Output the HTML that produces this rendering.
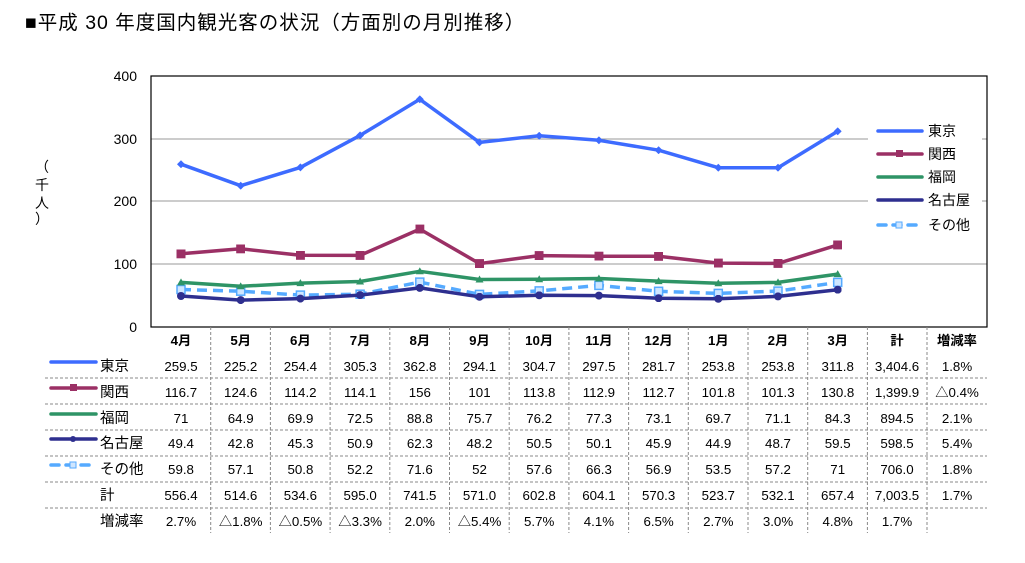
<!DOCTYPE html>
<html><head><meta charset="utf-8"><style>
body{margin:0;background:#fff;}
svg{display:block;font-family:"Liberation Sans","Noto Sans CJK JP",sans-serif;}
</style></head><body>
<svg width="1025" height="563" viewBox="0 0 1025 563" xmlns="http://www.w3.org/2000/svg">
<defs>
<marker id="mT" viewBox="-4 -4 8 8" markerWidth="8" markerHeight="8" markerUnits="userSpaceOnUse"><path d="M0,-4L4,0L0,4L-4,0Z" fill="#3d6bff"/></marker>
<marker id="mK" viewBox="-4 -4 8 8" markerWidth="9" markerHeight="9" markerUnits="userSpaceOnUse"><rect x="-4" y="-4" width="8" height="8" fill="#9b3065"/></marker>
<marker id="mF" viewBox="-4 -4 8 8" markerWidth="8" markerHeight="8" markerUnits="userSpaceOnUse"><path d="M0,-4L4,3L-4,3Z" fill="#2e9466"/></marker>
<marker id="mN" viewBox="-4 -4 8 8" markerWidth="8" markerHeight="8" markerUnits="userSpaceOnUse"><circle r="4" fill="#2e2f8f"/></marker>
<marker id="mO" viewBox="-5 -5 10 10" markerWidth="10" markerHeight="10" markerUnits="userSpaceOnUse"><rect x="-4" y="-4" width="8" height="8" fill="#cfe6ff" stroke="#55aaff" stroke-width="1.5"/></marker>
</defs>
<text x="25" y="29" font-size="19.5" letter-spacing="1" fill="#000">■平成 30 年度国内観光客の状況（方面別の月別推移）</text>
<g stroke="#999" stroke-width="1">
<line x1="151" y1="139" x2="987" y2="139"/>
<line x1="151" y1="201" x2="987" y2="201"/>
<line x1="151" y1="264" x2="987" y2="264"/>
</g>
<rect x="151" y="76" width="836" height="251" fill="none" stroke="#000" stroke-width="1.2"/>
<g font-size="14" text-anchor="end" fill="#000">
<text x="137" y="81">400</text><text x="137" y="144">300</text><text x="137" y="206">200</text><text x="137" y="269">100</text><text x="137" y="332">0</text>
</g>
<text font-size="14" x="42" y="172" text-anchor="middle">（</text>
<text font-size="14" x="42" y="190" text-anchor="middle">千</text>
<text font-size="14" x="42" y="208" text-anchor="middle">人</text>
<text font-size="14" x="42" y="224" text-anchor="middle">）</text>
<rect x="868" y="118" width="114" height="120" fill="#fff"/>
<g stroke-width="3.5" stroke-linecap="round">
<line x1="878" y1="131" x2="922" y2="131" stroke="#3d6bff"/>
<line x1="878" y1="154" x2="922" y2="154" stroke="#9b3065"/>
<line x1="878" y1="177" x2="922" y2="177" stroke="#2e9466"/>
<line x1="878" y1="200" x2="922" y2="200" stroke="#2e2f8f"/>
<line x1="878" y1="225" x2="922" y2="225" stroke="#55aaff" stroke-dasharray="8,7"/>
</g>
<rect x="896" y="150" width="7" height="7" fill="#9b3065"/>
<rect x="896" y="222" width="6" height="6" fill="#cfe6ff" stroke="#55aaff"/>
<g font-size="14"><text x="928" y="136">東京</text><text x="928" y="159">関西</text><text x="928" y="182">福岡</text><text x="928" y="205">名古屋</text><text x="928" y="230">その他</text></g>
<g fill="none" stroke-width="3.5" stroke-linejoin="round">
<polyline stroke="#55aaff" stroke-dasharray="10,6" marker-start="url(#mO)" marker-mid="url(#mO)" marker-end="url(#mO)" points="181,289.5 240.7,291.2 300.4,295.1 360.1,294.2 419.8,282.1 479.5,294.4 539.2,290.9 598.9,285.4 658.6,291.3 718.3,293.4 778,291.1 837.7,282.4"/>
<polyline stroke="#2e2f8f" marker-start="url(#mN)" marker-mid="url(#mN)" marker-end="url(#mN)" points="181,296 240.7,300.1 300.4,298.6 360.1,295.1 419.8,287.9 479.5,296.8 539.2,295.3 598.9,295.6 658.6,298.2 718.3,298.8 778,296.4 837.7,289.7"/>
<polyline stroke="#2e9466" marker-start="url(#mF)" marker-mid="url(#mF)" marker-end="url(#mF)" points="181,282.4 240.7,286.3 300.4,283.1 360.1,281.5 419.8,271.3 479.5,279.5 539.2,279.2 598.9,278.5 658.6,281.1 718.3,283.3 778,282.4 837.7,274.1"/>
<polyline stroke="#9b3065" marker-start="url(#mK)" marker-mid="url(#mK)" marker-end="url(#mK)" points="181,253.8 240.7,248.8 300.4,255.3 360.1,255.4 419.8,229.1 479.5,263.6 539.2,255.6 598.9,256.2 658.6,256.3 718.3,263.1 778,263.4 837.7,244.9"/>
<polyline stroke="#3d6bff" marker-start="url(#mT)" marker-mid="url(#mT)" marker-end="url(#mT)" points="181,164.2 240.7,185.7 300.4,167.4 360.1,135.4 419.8,99.3 479.5,142.4 539.2,135.8 598.9,140.3 658.6,150.2 718.3,167.7 778,167.7 837.7,131.3"/>
</g>
<g stroke="#888" stroke-width="1" stroke-dasharray="3,2">
<line x1="210.7" y1="327" x2="210.7" y2="533"/><line x1="270.4" y1="327" x2="270.4" y2="533"/><line x1="330.1" y1="327" x2="330.1" y2="533"/><line x1="389.8" y1="327" x2="389.8" y2="533"/><line x1="449.5" y1="327" x2="449.5" y2="533"/><line x1="509.2" y1="327" x2="509.2" y2="533"/><line x1="568.9" y1="327" x2="568.9" y2="533"/><line x1="628.6" y1="327" x2="628.6" y2="533"/><line x1="688.3" y1="327" x2="688.3" y2="533"/><line x1="748" y1="327" x2="748" y2="533"/><line x1="807.7" y1="327" x2="807.7" y2="533"/><line x1="867.4" y1="327" x2="867.4" y2="533"/><line x1="927" y1="327" x2="927" y2="533"/>
<line x1="45" y1="378" x2="987" y2="378"/><line x1="45" y1="404" x2="987" y2="404"/><line x1="45" y1="430" x2="987" y2="430"/><line x1="45" y1="456" x2="987" y2="456"/><line x1="45" y1="482" x2="987" y2="482"/><line x1="45" y1="508" x2="987" y2="508"/>
</g>
<g stroke-width="3.5" stroke-linecap="round">
<line x1="51" y1="362" x2="96" y2="362" stroke="#3d6bff"/>
<line x1="51" y1="388" x2="96" y2="388" stroke="#9b3065"/>
<line x1="51" y1="414" x2="96" y2="414" stroke="#2e9466"/>
<line x1="51" y1="439" x2="96" y2="439" stroke="#2e2f8f"/>
<line x1="51" y1="465" x2="96" y2="465" stroke="#55aaff" stroke-dasharray="8,7"/>
</g>
<rect x="70" y="384" width="7" height="7" fill="#9b3065"/>
<circle cx="73" cy="439" r="3" fill="#2e2f8f"/>
<rect x="70" y="462" width="6" height="6" fill="#cfe6ff" stroke="#55aaff"/>
<g font-size="14.5" fill="#000">
<text x="100" y="371">東京</text><text x="100" y="397">関西</text><text x="100" y="423">福岡</text><text x="100" y="448">名古屋</text><text x="100" y="474">その他</text><text x="100" y="500">計</text><text x="100" y="526">増減率</text>
</g>
<g font-size="13.3" text-anchor="middle" fill="#000">
<text y="345" font-weight="bold"><tspan x="181">4月</tspan><tspan x="240.7">5月</tspan><tspan x="300.4">6月</tspan><tspan x="360.1">7月</tspan><tspan x="419.8">8月</tspan><tspan x="479.5">9月</tspan><tspan x="539.2">10月</tspan><tspan x="598.9">11月</tspan><tspan x="658.6">12月</tspan><tspan x="718.3">1月</tspan><tspan x="778">2月</tspan><tspan x="837.7">3月</tspan><tspan x="897">計</tspan><tspan x="957">増減率</tspan></text>
<text y="371"><tspan x="181">259.5</tspan><tspan x="240.7">225.2</tspan><tspan x="300.4">254.4</tspan><tspan x="360.1">305.3</tspan><tspan x="419.8">362.8</tspan><tspan x="479.5">294.1</tspan><tspan x="539.2">304.7</tspan><tspan x="598.9">297.5</tspan><tspan x="658.6">281.7</tspan><tspan x="718.3">253.8</tspan><tspan x="778">253.8</tspan><tspan x="837.7">311.8</tspan><tspan x="897">3,404.6</tspan><tspan x="957">1.8%</tspan></text>
<text y="397"><tspan x="181">116.7</tspan><tspan x="240.7">124.6</tspan><tspan x="300.4">114.2</tspan><tspan x="360.1">114.1</tspan><tspan x="419.8">156</tspan><tspan x="479.5">101</tspan><tspan x="539.2">113.8</tspan><tspan x="598.9">112.9</tspan><tspan x="658.6">112.7</tspan><tspan x="718.3">101.8</tspan><tspan x="778">101.3</tspan><tspan x="837.7">130.8</tspan><tspan x="897">1,399.9</tspan><tspan x="957">△0.4%</tspan></text>
<text y="423"><tspan x="181">71</tspan><tspan x="240.7">64.9</tspan><tspan x="300.4">69.9</tspan><tspan x="360.1">72.5</tspan><tspan x="419.8">88.8</tspan><tspan x="479.5">75.7</tspan><tspan x="539.2">76.2</tspan><tspan x="598.9">77.3</tspan><tspan x="658.6">73.1</tspan><tspan x="718.3">69.7</tspan><tspan x="778">71.1</tspan><tspan x="837.7">84.3</tspan><tspan x="897">894.5</tspan><tspan x="957">2.1%</tspan></text>
<text y="448"><tspan x="181">49.4</tspan><tspan x="240.7">42.8</tspan><tspan x="300.4">45.3</tspan><tspan x="360.1">50.9</tspan><tspan x="419.8">62.3</tspan><tspan x="479.5">48.2</tspan><tspan x="539.2">50.5</tspan><tspan x="598.9">50.1</tspan><tspan x="658.6">45.9</tspan><tspan x="718.3">44.9</tspan><tspan x="778">48.7</tspan><tspan x="837.7">59.5</tspan><tspan x="897">598.5</tspan><tspan x="957">5.4%</tspan></text>
<text y="474"><tspan x="181">59.8</tspan><tspan x="240.7">57.1</tspan><tspan x="300.4">50.8</tspan><tspan x="360.1">52.2</tspan><tspan x="419.8">71.6</tspan><tspan x="479.5">52</tspan><tspan x="539.2">57.6</tspan><tspan x="598.9">66.3</tspan><tspan x="658.6">56.9</tspan><tspan x="718.3">53.5</tspan><tspan x="778">57.2</tspan><tspan x="837.7">71</tspan><tspan x="897">706.0</tspan><tspan x="957">1.8%</tspan></text>
<text y="500"><tspan x="181">556.4</tspan><tspan x="240.7">514.6</tspan><tspan x="300.4">534.6</tspan><tspan x="360.1">595.0</tspan><tspan x="419.8">741.5</tspan><tspan x="479.5">571.0</tspan><tspan x="539.2">602.8</tspan><tspan x="598.9">604.1</tspan><tspan x="658.6">570.3</tspan><tspan x="718.3">523.7</tspan><tspan x="778">532.1</tspan><tspan x="837.7">657.4</tspan><tspan x="897">7,003.5</tspan><tspan x="957">1.7%</tspan></text>
<text y="526"><tspan x="181">2.7%</tspan><tspan x="240.7">△1.8%</tspan><tspan x="300.4">△0.5%</tspan><tspan x="360.1">△3.3%</tspan><tspan x="419.8">2.0%</tspan><tspan x="479.5">△5.4%</tspan><tspan x="539.2">5.7%</tspan><tspan x="598.9">4.1%</tspan><tspan x="658.6">6.5%</tspan><tspan x="718.3">2.7%</tspan><tspan x="778">3.0%</tspan><tspan x="837.7">4.8%</tspan><tspan x="897">1.7%</tspan></text>
</g>
</svg>
</body></html>
